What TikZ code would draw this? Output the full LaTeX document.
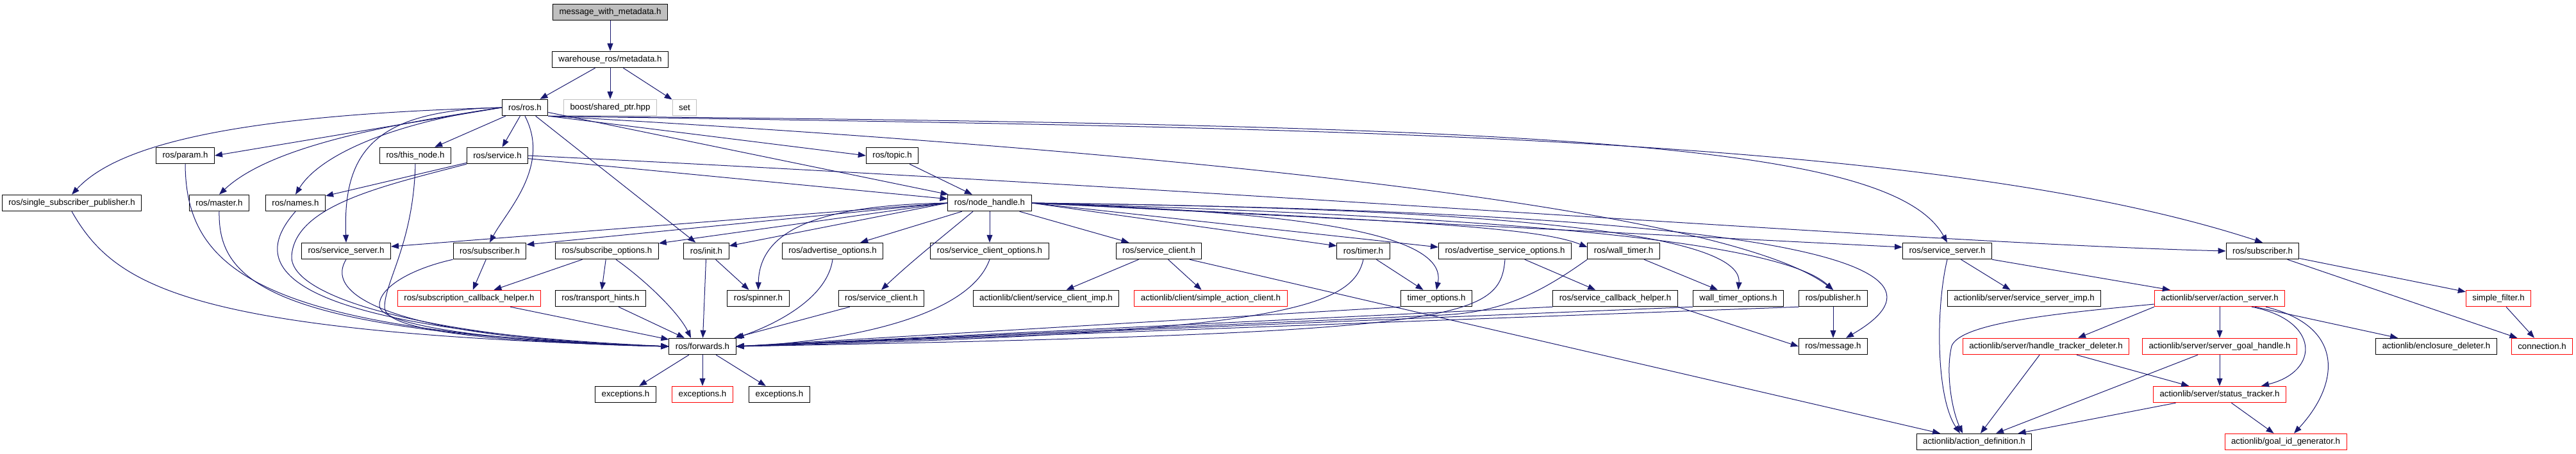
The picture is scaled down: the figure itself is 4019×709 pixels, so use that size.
\documentclass[tikz,border=0pt]{standalone}
\usepackage{fontspec}
\setmainfont{Liberation Sans}
\usetikzlibrary{arrows.meta}
\definecolor{edgeblue}{HTML}{191970}
\definecolor{extgray}{HTML}{BFBFBF}
\tikzset {
  >={Triangle[length=12pt,width=9pt]},
  every node/.style={font=\fontsize{13.3}{15}\selectfont},
  file/.style={draw=black,line width=1pt,rectangle,minimum height=25.5pt,
    inner xsep=10pt,inner ysep=0pt},
  redfile/.style={file,draw=red},
  extfile/.style={file,draw=extgray},
  rootfile/.style={file,fill=extgray},
  dep/.style={->,draw=edgeblue,line width=1pt},
}

\begin{document}
\begin{tikzpicture}[x=1pt,y=-1pt]
  \useasboundingbox (0,0) rectangle (4019,709);
  % files
  \node[rootfile] (root) at (952,19) {message\_with\_metadata.h};
  \node[file] (meta) at (952,93) {warehouse\_ros/metadata.h};
  \node[file] (ros) at (819,168) {ros/ros.h};
  \node[extfile] (boostptr) at (952,168) {boost/shared\_ptr.hpp};
  \node[extfile] (set) at (1068,168) {set};
  \node[file] (param) at (289,243) {ros/param.h};
  \node[file] (thisnode) at (648,243) {ros/this\_node.h};
  \node[file] (service) at (776,243) {ros/service.h};
  \node[file] (topic) at (1392,243) {ros/topic.h};
  \node[file] (ssp) at (112,317) {ros/single\_subscriber\_publisher.h};
  \node[file] (master) at (342,317) {ros/master.h};
  \node[file] (names) at (461,317) {ros/names.h};
  \node[file] (nh) at (1544,317) {ros/node\_handle.h};
  \node[file] (ssrvL) at (540,392) {ros/service\_server.h};
  \node[file] (subL) at (764,392) {ros/subscriber.h};
  \node[file] (subopt) at (947,392) {ros/subscribe\_options.h};
  \node[file] (init) at (1102,392) {ros/init.h};
  \node[file] (advopt) at (1299,392) {ros/advertise\_options.h};
  \node[file] (scliopt) at (1544,392) {ros/service\_client\_options.h};
  \node[file] (scli) at (1808,392) {ros/service\_client.h};
  \node[file] (timer) at (2127,392) {ros/timer.h};
  \node[file] (advsrvopt) at (2348,392) {ros/advertise\_service\_options.h};
  \node[file] (walltimer) at (2533,392) {ros/wall\_timer.h};
  \node[file] (ssrvR) at (3038,392) {ros/service\_server.h};
  \node[file] (subR) at (3530,392) {ros/subscriber.h};
  \node[redfile] (subcb) at (732,466) {ros/subscription\_callback\_helper.h};
  \node[file] (thints) at (937,466) {ros/transport\_hints.h};
  \node[file] (spinner) at (1183,466) {ros/spinner.h};
  \node[file] (scli2) at (1375,466) {ros/service\_client.h};
  \node[file] (scliimp) at (1632,466) {actionlib/client/service\_client\_imp.h};
  \node[redfile] (sac) at (1889,466) {actionlib/client/simple\_action\_client.h};
  \node[file] (timeropt) at (2241,466) {timer\_options.h};
  \node[file] (srvcb) at (2520,466) {ros/service\_callback\_helper.h};
  \node[file] (walltopt) at (2712,466) {wall\_timer\_options.h};
  \node[file] (pub) at (2860,466) {ros/publisher.h};
  \node[file] (ssimp) at (3158,466) {actionlib/server/service\_server\_imp.h};
  \node[redfile] (asrv) at (3463,466) {actionlib/server/action\_server.h};
  \node[redfile] (sfilter) at (3898,466) {simple\_filter.h};
  \node[file] (fwd) at (1096,541) {ros/forwards.h};
  \node[file] (msg) at (2860,541) {ros/message.h};
  \node[redfile] (htd) at (3192,541) {actionlib/server/handle\_tracker\_deleter.h};
  \node[redfile] (sgh) at (3463,541) {actionlib/server/server\_goal\_handle.h};
  \node[file] (encl) at (3801,541) {actionlib/enclosure\_deleter.h};
  \node[redfile] (conn) at (3966,541) {connection.h};
  \node[file] (exc1) at (976,616) {exceptions.h};
  \node[redfile] (exc2) at (1096,616) {exceptions.h};
  \node[file] (exc3) at (1216,616) {exceptions.h};
  \node[redfile] (stat) at (3463,616) {actionlib/server/status\_tracker.h};
  \node[file] (actdef) at (3080,690) {actionlib/action\_definition.h};
  \node[redfile] (gidgen) at (3566,690) {actionlib/goal\_id\_generator.h};

  % includes
  \draw[dep] (root) -- (meta);
  \draw[dep] (meta) -- (ros);
  \draw[dep] (meta) -- (boostptr);
  \draw[dep] (meta) -- (set);

  \draw[dep] (ros.west) .. controls (350,180) and (180,230) .. (ssp.north);
  \draw[dep] (ros.west) -- (param.east);
  \draw[dep] (ros.west) .. controls (600,195) and (420,230) .. (master.north);
  \draw[dep] (ros.west) .. controls (620,190) and (500,240) .. (names.north);
  \draw[dep] (ros.west) .. controls (580,172) and (535,240) .. (ssrvL.north);
  \draw[dep] (ros) -- (thisnode);
  \draw[dep] (ros) -- (service);
  \draw[dep] (ros.south) .. controls (860,260) and (790,330) .. (subL.north);
  \draw[dep] (ros) -- (init);
  \draw[dep] (ros.south east) -- (topic.west);
  \draw[dep] (ros) -- (nh);
  \draw[dep] (ros.south east) .. controls (1900,240) and (2700,330) .. (pub.north);
  \draw[dep] (ros.south east) .. controls (2400,195) and (2950,220) .. (ssrvR.north);
  \draw[dep] (ros.south east) .. controls (2000,200) and (3000,205) .. (subR.north);

  \draw[dep] (service) -- (names);
  \draw[dep] (service) -- (nh);
  \draw[dep] (service.east) .. controls (2000,300) and (3000,380) .. (subR.west);
  \draw[dep] (service.south west) .. controls (600,290) and (460,320) .. (455,400)
    .. controls (452,470) and (700,530) .. (fwd.west);
  \draw[dep] (topic) -- (nh);

  \draw[dep] (ssp.south) .. controls (180,450) and (300,520) .. (fwd.west);
  \draw[dep] (param.south) .. controls (290,420) and (400,520) .. (fwd.west);
  \draw[dep] (master.south) .. controls (340,440) and (420,520) .. (fwd.west);
  \draw[dep] (names.south) .. controls (400,400) and (380,510) .. (fwd.west);
  \draw[dep] (thisnode.south) .. controls (645,380) and (600,440) .. (600,480)
    .. controls (600,520) and (800,535) .. (fwd.west);
  \draw[dep] (ssrvL.south) .. controls (500,470) and (650,530) .. (fwd.west);
  \draw[dep] (subL.south west) .. controls (640,420) and (590,450) .. (592,478)
    .. controls (595,515) and (850,538) .. (fwd.west);

  \draw[dep] (subL) -- (subcb);
  \draw[dep] (subopt) -- (subcb);
  \draw[dep] (subopt) -- (thints);
  \draw[dep] ([xshift=14pt]subopt.south) .. controls (1010,440) and (1060,490) .. ([xshift=-18pt]fwd.north);
  \draw[dep] (thints) -- (fwd);
  \draw[dep] (subcb) -- (fwd);
  \draw[dep] (init) -- (spinner);
  \draw[dep] (init) -- (fwd);
  \draw[dep] (advopt.south) .. controls (1290,470) and (1200,510) .. (fwd.north east);
  \draw[dep] (scli2) -- (fwd);
  \draw[dep] (scliopt.south) .. controls (1510,500) and (1300,535) .. (fwd.east);

  \draw[dep] (nh.west) -- ([yshift=7pt]ssrvL.east);
  \draw[dep] (nh.west) -- ([yshift=10pt]subL.east);
  \draw[dep] (nh.west) -- ([yshift=12pt]subopt.east);
  \draw[dep] (nh.west) -- ([yshift=8pt]init.east);
  \draw[dep] (nh.west) .. controls (1300,320) and (1185,350) .. (spinner.north);
  \draw[dep] (nh) -- (advopt);
  \draw[dep] (nh) -- (scliopt);
  \draw[dep] ([xshift=-26pt]nh.south) .. controls (1470,370) and (1420,410) .. (scli2.north);
  \draw[dep] (nh) -- (scli);
  \draw[dep] (nh.east) -- ([yshift=8pt]timer.west);
  \draw[dep] (nh.east) .. controls (2000,330) and (2260,360) .. (timeropt.north);
  \draw[dep] (nh.east) -- ([yshift=6pt]advsrvopt.west);
  \draw[dep] (nh.east) .. controls (2200,345) and (2400,355) .. ([yshift=6pt]walltimer.west);
  \draw[dep] (nh.east) .. controls (2300,325) and (2720,360) .. (walltopt.north);
  \draw[dep] (nh.east) .. controls (2400,340) and (2780,380) .. (pub.north);
  \draw[dep] (nh.east) .. controls (2700,330) and (3100,400) .. ([xshift=20pt]msg.north);
  \draw[dep] (nh.east) -- ([yshift=6pt]ssrvR.west);

  \draw[dep] (scli) -- (scliimp);
  \draw[dep] (scli) -- (sac);
  \draw[dep] ([xshift=48pt]scli.south) -- ([xshift=-53pt]actdef.north);
  \draw[dep] (timer) -- (timeropt);
  \draw[dep] (timer.south) .. controls (2110,480) and (2000,520) .. (fwd.east);
  \draw[dep] (timeropt.south west) -- (fwd.east);
  \draw[dep] (advsrvopt) -- (srvcb);
  \draw[dep] (advsrvopt.south) .. controls (2340,500) and (2280,520) .. (fwd.east);
  \draw[dep] (walltimer) -- (walltopt);
  \draw[dep] (walltimer.south west) .. controls (2400,460) and (2340,488) .. (2250,492) -- (fwd.east);
  \draw[dep] (srvcb.south west) -- (fwd.east);
  \draw[dep] (srvcb.south east) -- (msg.west);
  \draw[dep] (walltopt.south west) -- (fwd.east);
  \draw[dep] (pub) -- (msg);
  \draw[dep] (pub.south west) -- (fwd.east);

  \draw[dep] (ssrvR.south) .. controls (3020,480) and (3020,620) .. ([xshift=-22pt]actdef.north);
  \draw[dep] (ssrvR) -- (ssimp);
  \draw[dep] (ssrvR.south east) -- ([xshift=25pt]asrv.north west);
  \draw[dep] ([yshift=-9pt]asrv.west) .. controls (3200,490) and (3060,505) .. (3045,540)
    .. controls (3035,580) and (3045,640) .. ([xshift=-18pt]actdef.north);
  \draw[dep] (asrv.south west) -- ([xshift=50pt]htd.north);
  \draw[dep] (asrv) -- (sgh);
  \draw[dep] ([xshift=50pt]asrv.south) .. controls (3620,500) and (3620,580) .. ([xshift=65pt]stat.north);
  \draw[dep] ([xshift=72pt]asrv.south) .. controls (3660,510) and (3650,600) .. ([xshift=13pt]gidgen.north);
  \draw[dep] ([xshift=55pt]asrv.south) -- ([xshift=-60pt]encl.north);
  \draw[dep] (htd) -- (actdef);
  \draw[dep] (htd) -- (stat);
  \draw[dep] (sgh) -- (actdef);
  \draw[dep] (sgh) -- (stat);
  \draw[dep] (stat) -- (actdef);
  \draw[dep] (stat) -- (gidgen);

  \draw[dep] (subR) -- (sfilter);
  \draw[dep] (subR) -- (conn);
  \draw[dep] (sfilter) -- (conn);

  \draw[dep] (fwd) -- (exc1);
  \draw[dep] (fwd) -- (exc2);
  \draw[dep] (fwd) -- (exc3);
\end{tikzpicture}
\end{document}
